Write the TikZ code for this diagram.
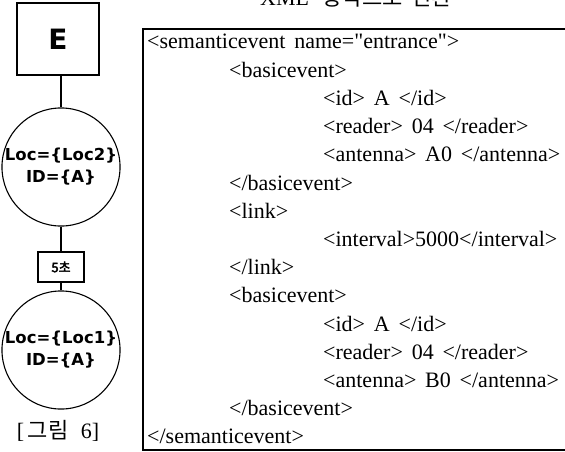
\documentclass[tikz,border=0pt]{standalone}
\usepackage{fontspec}
\setmainfont{Liberation Serif}[Ligatures=TeXOff,WordSpace=1.6]
\newfontfamily\kr{Noto Sans CJK KR}
\newfontfamily\krb[FakeBold=3]{Noto Sans CJK KR}
\newfontfamily\bsans{DejaVu Sans}
\begin{document}
\begin{tikzpicture}[x=1pt,y=-1pt,
  frame/.style={draw,line width=1.1pt},
  link/.style={draw,line width=1.1pt},
  evcircle/.style={frame,circle,minimum size=114pt,inner sep=0pt,align=center,
    font=\bsans\bfseries\fontsize{16.5}{22}\selectfont},
  xml/.style={anchor=base west,inner sep=0pt,font=\fontsize{22}{24}\selectfont}]
\useasboundingbox (0,0) rectangle (565,452);
\clip (0,0) rectangle (565,452);
% left diagram
\node[frame,minimum width=82pt,minimum height=72pt,inner sep=0pt,
  font=\bsans\bfseries\fontsize{28}{28}\selectfont] (E) at (58,39) {E};
\node[evcircle] (c1) at (61,167) {Loc=\{Loc2\}\\ID=\{A\}};
\node[frame,minimum width=46pt,minimum height=30pt,inner sep=0pt,
  font=\krb\fontsize{13}{13}\selectfont] (t5) at (61,267) {5초};
\node[evcircle] (c2) at (61,350) {Loc=\{Loc1\}\\ID=\{A\}};
\draw[link] (c1.north) |- (E.south);
\draw[link] (c1.south) -- (t5.north);
\draw[link] (t5.south) -- (c2.north);
\node[inner sep=0pt,font=\fontsize{22}{22}\selectfont] (cap) at (58,431) {[\,{\kr 그림}\, 6]};
% title
\node[anchor=base west,inner sep=0pt,font=\fontsize{22}{22}\selectfont] (title) at (260,6) {XML\, {\kr 형식으로\, 변환}};
% XML box
\draw[frame] (143,29) rectangle (568,450);
\node[xml] (l1) at (147,49) {<semanticevent name="entrance">};
\node[xml] (l2) at (229,77.2) {<basicevent>};
\node[xml] (l3) at (323,105.4) {<id> A </id>};
\node[xml] (l4) at (323,133.6) {<reader> 04 </reader>};
\node[xml] (l5) at (323,161.8) {<antenna> A0 </antenna>};
\node[xml] (l6) at (229,190) {</basicevent>};
\node[xml] (l7) at (229,218.2) {<link>};
\node[xml] (l8) at (323,246.4) {<interval>5000</interval>};
\node[xml] (l9) at (229,274.6) {</link>};
\node[xml] (l10) at (229,302.8) {<basicevent>};
\node[xml] (l11) at (323,331) {<id> A </id>};
\node[xml] (l12) at (323,359.2) {<reader> 04 </reader>};
\node[xml] (l13) at (323,387.4) {<antenna> B0 </antenna>};
\node[xml] (l14) at (229,415.6) {</basicevent>};
\node[xml] (l15) at (147,443.8) {</semanticevent>};
\end{tikzpicture}
\end{document}
